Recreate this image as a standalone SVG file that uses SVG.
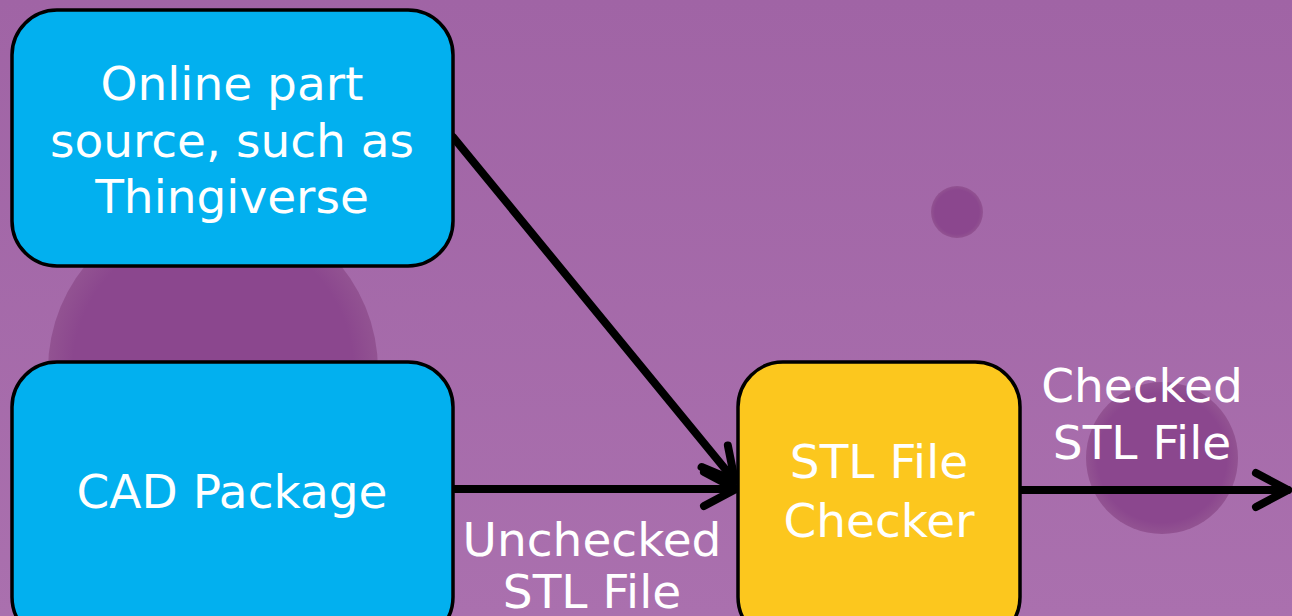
<svg xmlns="http://www.w3.org/2000/svg" width="1292" height="616" viewBox="0 0 1292 616">
<defs>
<linearGradient id="bg" x1="0" y1="0" x2="0" y2="1">
<stop offset="0" stop-color="#a064a5"/>
<stop offset="1" stop-color="#aa70ae"/>
</linearGradient>
<radialGradient id="dot">
<stop offset="0.85" stop-color="#8b478e"/>
<stop offset="1" stop-color="#90508f" stop-opacity="0.9"/>
</radialGradient>
<marker id="arr" viewBox="0 0 50 50" markerWidth="50" markerHeight="50" refX="40" refY="25" markerUnits="userSpaceOnUse" orient="auto">
<polyline points="8,8 40,25 8,42" fill="none" stroke="#000" stroke-width="8" stroke-linecap="round" stroke-linejoin="round"/>
</marker>
<style>
.box{stroke:#000;stroke-width:3.5}
.blue{fill:#02b0ef}
.yellow{fill:#fcc71e}
.t{font-family:"DejaVu Sans",Verdana,sans-serif;font-size:47px;fill:#fff;text-anchor:middle}
.c{stroke:#000;stroke-width:8;fill:none;stroke-linecap:round}
</style>
</defs>
<rect x="0" y="0" width="1292" height="616" fill="url(#bg)"/>
<g id="background">
<circle cx="213" cy="370" r="165" fill="url(#dot)"/>
<circle cx="957" cy="212" r="26" fill="url(#dot)"/>
<circle cx="1162" cy="458" r="76" fill="url(#dot)"/>
</g>
<g id="connectors">
<line class="c" x1="453" y1="137" x2="735" y2="481" marker-end="url(#arr)"/>
<line class="c" x1="453" y1="489" x2="736" y2="489" marker-end="url(#arr)"/>
<line class="c" x1="1019" y1="490" x2="1288" y2="490" marker-end="url(#arr)"/>
<text class="t" x="592" y="556">Unchecked</text>
<text class="t" x="592" y="608">STL File</text>
<text class="t" x="1142" y="402">Checked</text>
<text class="t" x="1142" y="459">STL File</text>
</g>
<g id="online">
<rect class="box blue" x="12" y="10" width="441" height="256" rx="45"/>
<text class="t" x="232" y="100">Online part</text>
<text class="t" x="232" y="157">source, such as</text>
<text class="t" x="232" y="213">Thingiverse</text>
</g>
<g id="cad">
<rect class="box blue" x="12" y="362" width="441" height="280" rx="45"/>
<text class="t" x="232" y="508">CAD Package</text>
</g>
<g id="checker">
<rect class="box yellow" x="738" y="362" width="282" height="280" rx="45"/>
<text class="t" x="879" y="478">STL File</text>
<text class="t" x="879" y="537">Checker</text>
</g>
</svg>
